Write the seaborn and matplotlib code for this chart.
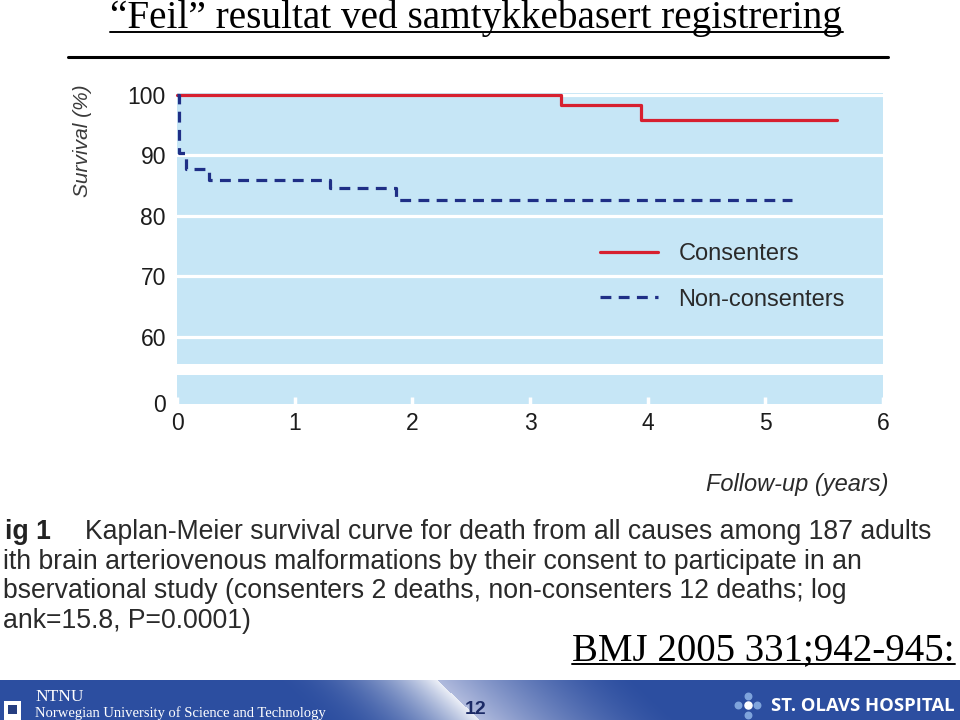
import numpy as np
import pandas as pd
import seaborn as sns
import matplotlib.pyplot as plt
from matplotlib.lines import Line2D

# Kaplan-Meier curves (time in years, survival in %)
cons_time = [0.0, 3.26, 3.94, 5.61]
cons_surv = [100.0, 98.3, 95.9, 95.9]
noncons_time = [0.0, 0.013, 0.08, 0.27, 1.30, 1.86, 5.23]
noncons_surv = [100.0, 90.4, 87.7, 86.0, 84.6, 82.6, 82.6]
group_labels = ["Consenters", "Non-consenters"]
y_ticks = [60, 70, 80, 90, 100]
x_ticks = [0, 1, 2, 3, 4, 5, 6]

title = "\u201cFeil\u201d resultat ved samtykkebasert registrering"
caption_lines = [
    "ith brain arteriovenous malformations by their consent to participate in an",
    "bservational study (consenters 2 deaths, non-consenters 12 deaths; log",
    "ank=15.8, P=0.0001)",
]
reference = "BMJ 2005 331;942-945:"

panel = "#c6e6f6"
red = "#d7202f"
navy = "#1f2f86"
sans = ["Liberation Sans", "DejaVu Sans"]
serif = ["Liberation Serif", "DejaVu Serif"]

sns.set_theme(style="darkgrid", rc={"axes.facecolor": panel, "grid.color": "white",
                                    "grid.linewidth": 2.3})
plt.rcParams["font.family"] = sans

df = pd.concat([
    pd.DataFrame({"time": cons_time, "surv": cons_surv, "group": group_labels[0]}),
    pd.DataFrame({"time": noncons_time, "surv": noncons_surv, "group": group_labels[1]}),
])

W, H = 960, 720
fig = plt.figure(figsize=(9.6, 7.2), dpi=100)
fig.patch.set_facecolor("white")

# slide decoration layer in pixel coordinates
deco = fig.add_axes([0, 0, 1, 1], zorder=0)
deco.set_xlim(0, W)
deco.set_ylim(H, 0)
deco.axis("off")


def px_axes(left, top, right, bottom):
    return fig.add_axes([left / W, 1 - bottom / H, (right - left) / W, (bottom - top) / H], zorder=2)


ppu = 6.04  # pixels per survival unit
ax = px_axes(177, 93, 883, 363.5)
axb = px_axes(177, 374.5, 883, 403.5)

for a in (ax, axb):
    for s in a.spines.values():
        s.set_visible(False)
    a.set_xlim(0, 6)
    a.grid(axis="x", visible=False)

ax.set_ylim(100 - 268.5 / ppu, 100 + 2 / ppu)
axb.set_ylim(0, 29 / ppu)

styles = {group_labels[0]: dict(color=red, linestyle="-"),
          group_labels[1]: dict(color=navy, linestyle=(0, (3.4, 2.3)))}
for g, sub in df.groupby("group", sort=False):
    sns.lineplot(data=sub, x="time", y="surv", ax=ax, drawstyle="steps-post",
                 linewidth=2.3, clip_on=False, zorder=3, **styles[g])

ax.set_yticks(y_ticks)
ax.set_yticklabels([str(v) for v in y_ticks])
ax.set_xticks([])
ax.set_xlabel("")
ax.set_ylabel("")
ax.tick_params(axis="y", length=0, pad=8, labelsize=16.5, labelcolor="#1c1c1c")

axb.set_yticks([0])
axb.set_yticklabels(["0"])
axb.grid(axis="y", visible=False)
axb.set_xticks(x_ticks)
axb.set_xticklabels([str(v) for v in x_ticks])
axb.tick_params(axis="y", length=0, pad=8, labelsize=16.5, labelcolor="#1c1c1c")
axb.tick_params(axis="x", direction="in", length=5, width=2.5, color="white",
                pad=6, labelsize=16.5, labelcolor="#1c1c1c", bottom=True)

handles = [Line2D([], [], linewidth=2.3, **styles[g]) for g in group_labels]
ax.legend(handles, group_labels, loc="upper left", bbox_to_anchor=(0.583, 0.489),
          frameon=False, fontsize=17, handlelength=2.45, handletextpad=0.85,
          labelspacing=1.0, borderpad=0, labelcolor="#2a2a2a")

fig.text(82 / W, 1 - 141 / H, "Survival (%)", rotation=90, ha="center", va="center",
         fontsize=15, style="italic", color="#3a3a3a")
fig.text(888 / W, 1 - 485 / H, "Follow-up (years)", ha="right", va="center",
         fontsize=17, style="italic", color="#2a2a2a")

# title and rules
deco.text(110, 28, title, family=serif, fontsize=28.3, ha="left", va="baseline", color="black")
deco.plot([110, 843], [32, 32], color="black", lw=1.4)
deco.plot([68, 888], [57, 57], color="black", lw=2.2)

# figure caption
deco.text(5, 539, "ig 1", fontsize=19.2, fontweight="bold", color="#222222", va="baseline")
deco.text(85, 539, "Kaplan-Meier survival curve for death from all causes among 187 adults",
          fontsize=19.2, color="#2a2a2a", va="baseline")
for i, line in enumerate(caption_lines):
    deco.text(3, 569 + 29.5 * i, line, fontsize=19.2, color="#2a2a2a", va="baseline")

deco.text(572, 660, reference, family=serif, fontsize=28, color="black", va="baseline")
deco.plot([572, 955], [664, 664], color="black", lw=1.4)

# footer band with the light streak
xs = np.arange(W) + 0.5
ys = np.arange(680, H) + 0.5
X, Y = np.meshgrid(xs, ys)
edge = 437 + (Y - 680) * (43 / 40)
d = X - edge
base = np.array([44, 78, 160]) / 255
white = np.array([236, 239, 247]) / 255
lav = np.array([200, 206, 232]) / 255
tl = np.clip(1 + d / 170, 0, 1) ** 2.2 * (d < 0)
tr = np.clip(1 - d / 200, 0, 1) ** 1.5 * 0.85 * (d >= 0)
img = base * (1 - tl - tr)[..., None] + white * tl[..., None] + lav * tr[..., None]
deco.imshow(img, extent=(0, W, H, 680), aspect="auto", zorder=1)
deco.set_xlim(0, W)
deco.set_ylim(H, 0)

deco.add_patch(plt.Rectangle((4, 701), 17, 19, facecolor="white", edgecolor="none", zorder=2))
deco.add_patch(plt.Rectangle((8, 705), 9, 9, facecolor="#263e80", edgecolor="none", zorder=3))
deco.text(35, 701, "NTNU", family=serif, fontsize=12.5, color="white", va="baseline", zorder=3)
deco.text(35, 716.5, "Norwegian University of Science and Technology", family=serif,
          fontsize=10.5, color="white", va="baseline", zorder=3)
deco.text(476, 714, "12", fontsize=14, fontweight="bold", color="#1b2a66", ha="center",
          va="baseline", zorder=3)
deco.scatter([748, 738, 757, 748], [696, 705, 705, 715], s=22, color="#7fa4dc", zorder=3)
deco.scatter([748], [705], s=26, color="white", zorder=3)
deco.text(955, 711, "ST. OLAVS HOSPITAL", family=["Open Sans", "DejaVu Sans"], fontsize=13.3,
          fontweight="bold", color="white", ha="right", va="baseline", zorder=3)

fig.savefig("out.png", dpi=100)
